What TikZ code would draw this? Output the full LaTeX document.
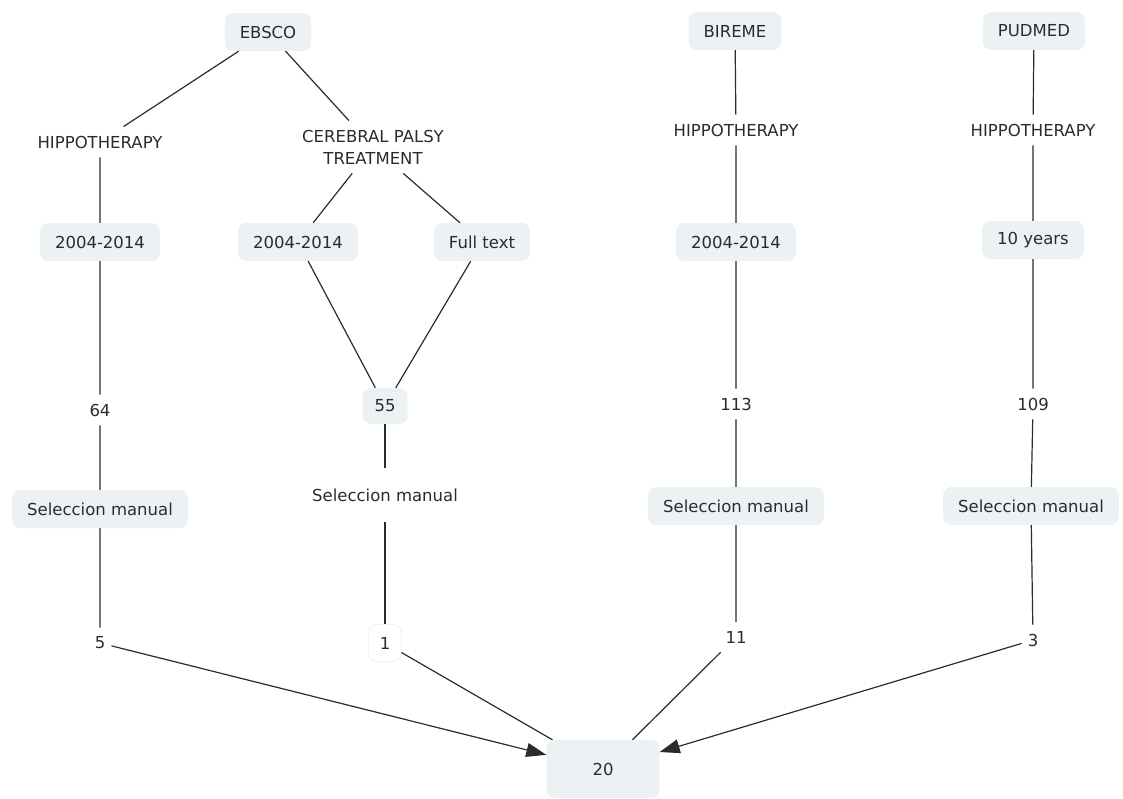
\documentclass[tikz,border=0pt]{standalone}
\usepackage{fontspec}
\setmainfont{DejaVu Sans}
\usepackage{tikz}
\usetikzlibrary{arrows.meta}

\definecolor{boxfill}{HTML}{ECF2F4}
\definecolor{ink}{HTML}{2B2B2B}

\begin{document}
\begin{tikzpicture}[x=1pt,y=1pt,
  font=\fontsize{16.5}{22}\selectfont, text=ink,
  concept/.style={fill=boxfill, rounded corners=8pt, inner xsep=15pt, minimum height=38pt},
  blank/.style={draw=black!12, fill=white, rounded corners=8pt, inner xsep=11pt, minimum height=37pt},
  phrase/.style={inner xsep=6pt, inner ysep=9pt, align=center},
  link/.style={draw=ink, line width=1.2pt},
  tip/.style={link, -{Triangle[length=20pt,width=14pt]}}]
\useasboundingbox (0,0) rectangle (1123,-798);
% data bases
\node[concept] (ebsco) at (268,-32) {EBSCO};
\node[concept] (bireme) at (735,-31) {BIREME};
\node[concept] (pudmed) at (1034,-31) {PUDMED};
% search terms
\node[phrase] (hipA) at (100,-142) {HIPPOTHERAPY};
\node[phrase] (cp) at (373,-147) {CEREBRAL PALSY\\TREATMENT};
\node[phrase] (hipB) at (736,-130) {HIPPOTHERAPY};
\node[phrase] (hipC) at (1033,-130) {HIPPOTHERAPY};
% filters
\node[concept] (yrA) at (100,-242) {2004-2014};
\node[concept] (yrB) at (298,-242) {2004-2014};
\node[concept] (full) at (482,-242) {Full text};
\node[concept] (yrC) at (736,-242) {2004-2014};
\node[concept] (yrD) at (1033,-240) {10 years};
% results
\node[phrase] (nA) at (100,-410) {64};
\node[concept,inner xsep=12pt,minimum height=36pt] (nB) at (385,-406) {55};
\node[phrase] (nC) at (736,-404) {113};
\node[phrase] (nD) at (1033,-404) {109};
% selection
\node[concept] (selA) at (100,-509) {Seleccion manual};
\node[phrase,inner ysep=20pt] (selB) at (385,-495) {Seleccion manual};
\node[concept] (selC) at (736,-506) {Seleccion manual};
\node[concept] (selD) at (1031,-506) {Seleccion manual};
% final
\node[phrase] (fA) at (100,-643) {5};
\node[blank] (fB) at (385,-643) {1};
\node[phrase] (fC) at (736,-637) {11};
\node[phrase] (fD) at (1033,-640) {3};
\node[concept, minimum width=113pt, minimum height=58pt] (total) at (603,-769) {20};

\draw[link] (ebsco) -- (hipA) -- (yrA) -- (nA) -- (selA) -- (fA);
\draw[link] (ebsco) -- (cp);
\draw[link] (cp) -- (yrB) -- (nB);
\draw[link] (cp) -- (full) -- (nB);
\draw[link] (nB) -- (selB) -- (fB);
\draw[link] (bireme) -- (hipB) -- (yrC) -- (nC) -- (selC) -- (fC);
\draw[link] (pudmed) -- (hipC) -- (yrD) -- (nD) -- (selD) -- (fD);
\draw[tip] (fA) -- (total);
\draw[link] (fB) -- (total);
\draw[link] (fC) -- (total);
\draw[tip] (fD) -- (total);
\end{tikzpicture}
\end{document}
